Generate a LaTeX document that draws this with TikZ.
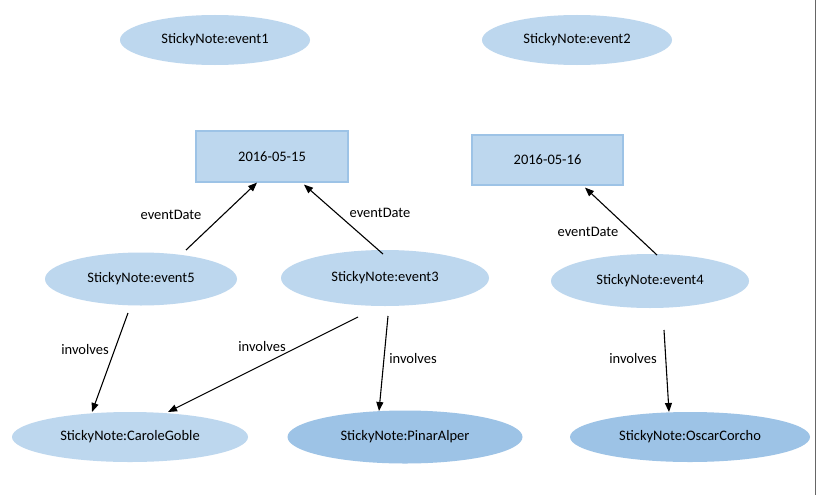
\documentclass[tikz,border=0pt]{standalone}
\usepackage{fontspec}
\setmainfont{Carlito}
\usetikzlibrary{arrows.meta,calc,shapes.geometric}
\definecolor{lightfill}{HTML}{BDD7EE}
\definecolor{darkfill}{HTML}{9DC3E6}
\definecolor{rectborder}{HTML}{9DC3E6}
\tikzset{
  base/.style={font=\fontsize{14.5}{17}\selectfont, inner sep=0pt},
  lightell/.style={base, ellipse, fill=lightfill, draw=none},
  darkell/.style={base, ellipse, fill=darkfill, draw=none},
  datebox/.style={base, rectangle, fill=lightfill, draw=rectborder, line width=1.2pt, minimum width=152pt, minimum height=51pt},
  lbl/.style={base},
  conn/.style={draw=black, line width=1.1pt, -{Triangle[length=9pt,width=7pt]}},
}
\begin{document}
\begin{tikzpicture}[x=1pt,y=-1pt]
\useasboundingbox (0,0) rectangle (818,495);
\fill[white] (0,0) rectangle (818,495);
\draw[gray!80!black, line width=1pt] (815.5,0) -- (815.5,495);

\node[lightell, minimum width=190pt, minimum height=50pt] (e1) at (215,40) {StickyNote:event1};
\node[lightell, minimum width=190pt, minimum height=50pt] (e2) at (577,40) {StickyNote:event2};
\node[datebox] (d1) at (272,156.5) {2016-05-15};
\node[datebox, minimum width=151pt, minimum height=50pt] (d2) at (547.5,160) {2016-05-16};
\node[lightell, minimum width=192pt, minimum height=53pt] (e5) at (141,279) {StickyNote:event5};
\node[lightell, minimum width=208pt, minimum height=56pt] (e3) at (385,278) {StickyNote:event3};
\node[lightell, minimum width=198pt, minimum height=54pt] (e4) at (650,281) {StickyNote:event4};
\node[lightell, minimum width=236pt, minimum height=50pt] (cg) at (130,437) {StickyNote:CaroleGoble};
\node[darkell, minimum width=235pt, minimum height=53pt] (pa) at (405,437) {StickyNote:PinarAlper};
\node[darkell, minimum width=240pt, minimum height=50pt] (oc) at (690,437) {StickyNote:OscarCorcho};

\draw[conn] ($(e5.center)+(45,-29)$) -- ($(d1.south)+(-15,0)$);
\draw[conn] ($(e3.center)+(-2,-24)$) -- ($(d1.south)+(32,2)$);
\draw[conn] ($(e4.center)+(7,-26)$) -- ($(d2.south)+(37.5,2)$);
\draw[conn] ($(e5.center)+(-13,34)$) -- ($(cg.center)+(-38,-25)$);
\draw[conn] ($(e3.center)+(-27,39)$) -- ($(cg.center)+(38,-25)$);
\draw[conn] ($(e3.center)+(3,38)$) -- ($(pa.center)+(-26,-26)$);
\draw[conn] ($(e4.center)+(14,49)$) -- ($(oc.center)+(-21,-25)$);

\node[lbl] (l1) at (171,215) {eventDate};
\node[lbl] (l2) at (380,213) {eventDate};
\node[lbl] (l3) at (588,232) {eventDate};
\node[lbl] (l4) at (85,350) {involves};
\node[lbl] (l5) at (262,347) {involves};
\node[lbl] (l6) at (413,359) {involves};
\node[lbl] (l7) at (633,359) {involves};
\end{tikzpicture}
\end{document}
